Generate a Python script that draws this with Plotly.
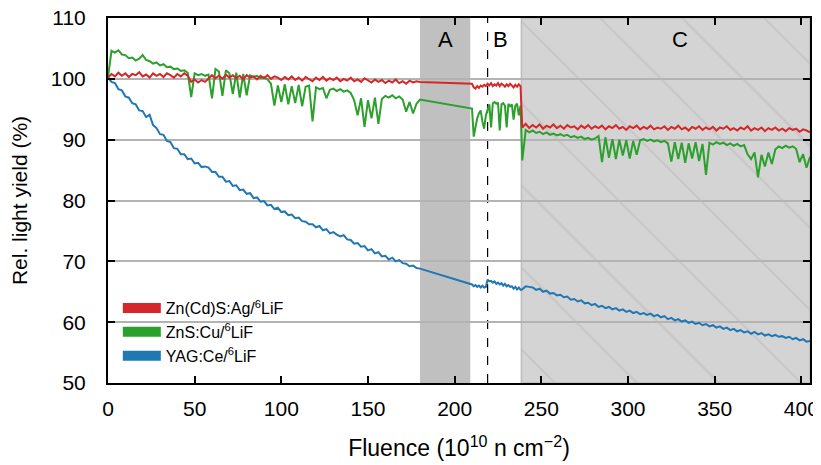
import numpy as np
import plotly.graph_objects as go

# ------------------------------------------------------------
# data
# ------------------------------------------------------------

# fluence grids of the three measurement periods
fluencia_1 = np.arange(0, 181, 2)      # before A
fluencia_2 = np.arange(210, 239, 1)    # period B
fluencia_3 = np.arange(239, 406, 2)    # period C

zncds_1 = [100.2, 100.8, 100.4, 101.0, 100.5, 100.9, 100.3, 100.8, 100.6, 101.1,
           100.4, 100.7, 100.2, 100.9, 100.5, 100.8, 100.3, 100.9, 100.6, 100.2,
           100.8, 100.4, 100.9, 100.5,
           99.5, 99.9, 99.4, 99.8, 99.5, 100.0,
           100.6, 100.1, 100.5, 100.0, 100.7, 100.2, 100.6, 100.1, 100.5, 99.9,
           100.6, 100.2, 100.4, 99.9, 100.5, 100.1, 100.6, 100.0, 100.4, 100.2, 99.8,
           100.3, 99.9, 100.4, 99.8, 100.2, 99.7, 100.3, 100.0, 99.6, 100.2,
           99.8, 100.3, 99.7, 100.1, 99.8, 100.2, 99.6, 100.0, 99.7, 100.2,
           99.6, 99.9, 99.5, 100.1, 99.7,
           99.4, 99.9, 99.5, 99.8, 99.3, 99.7, 99.4, 99.9, 99.3, 99.6,
           99.2, 99.7, 99.4, 99.6, 99.5]
zncds_2 = [99.2, 98.6, 98.4, 98.8, 98.5, 98.9, 98.7, 99.0, 98.8, 99.2,
           98.9, 99.3, 98.8, 99.1, 98.9, 99.3, 98.8, 99.2, 99.0, 98.7,
           99.1, 98.8, 99.2, 98.9, 98.6, 99.0, 98.7, 99.1, 98.8]
zncds_3 = [92.0, 92.6, 91.9, 92.4, 92.0, 92.5, 91.8, 92.3, 92.0, 92.5,
           91.9, 92.3, 91.8, 92.4, 92.0, 92.2, 91.7, 92.3, 91.9, 92.4,
           91.8, 92.2, 91.9, 92.3, 91.7, 92.2, 91.9, 92.4, 91.8, 92.1,
           91.6, 92.2, 91.9, 92.3, 91.7, 92.1, 91.8, 92.3, 91.7, 92.0,
           91.8, 92.2, 91.6, 92.1, 91.8, 92.3, 91.7, 92.0, 91.5, 92.1,
           91.8, 92.2, 91.6, 92.0, 91.7, 92.1, 91.5, 92.0, 91.8, 92.2,
           91.6, 91.9, 91.5, 92.0, 91.7, 92.2, 91.5, 91.9, 91.6, 92.0,
           91.4, 91.9, 91.6, 92.0, 91.5, 91.8, 91.4, 91.9, 91.6, 91.8,
           91.3, 91.7, 91.5, 91.2]

zns_1 = [100.2, 104.6, 104.3, 104.7, 104.0, 103.9, 103.4, 103.5, 103.0, 103.3,
         103.9, 103.1, 102.9, 102.5, 102.7, 102.2, 102.4, 101.9, 102.0, 101.6,
         101.7, 101.3, 101.4, 101.0, 97.0, 100.9, 100.6, 100.8, 100.5, 100.7,
         96.8, 101.6, 101.2, 97.2, 101.4, 100.9, 97.5, 101.0, 96.9, 100.8,
         97.3, 100.6, 100.3, 100.5, 100.1, 100.3, 99.9, 99.2, 95.6, 98.9,
         96.2, 99.1, 95.8, 98.8, 96.0, 99.0, 95.5, 98.7, 98.9, 93.0,
         98.6, 98.3, 98.5, 96.8, 98.2, 98.4, 98.0, 98.3, 97.9, 98.1,
         97.7, 96.5, 94.0, 96.8, 92.1, 96.5, 93.5, 96.9, 92.6, 96.7,
         97.2, 96.9, 97.3, 96.8, 97.1, 96.6, 94.6, 96.2, 94.3, 95.9,
         96.6]
zns_2 = [95.1, 90.5, 92.0, 93.5, 94.3, 94.8, 93.0, 91.8, 94.0, 95.0,
         95.8, 92.0, 96.0, 96.2, 95.9, 96.1, 91.5, 95.8, 96.0, 95.6,
         92.0, 95.9, 95.5, 95.8, 93.3, 95.6, 95.9, 94.0, 95.6]
zns_3 = [86.6, 91.6, 91.2, 91.5, 91.1, 91.3, 90.9, 91.2, 90.8, 91.0,
         90.7, 90.9, 90.6, 90.8, 90.4, 90.6, 90.3, 90.5, 90.1, 90.3,
         90.0, 90.2, 90.6, 86.3, 90.4, 87.0, 90.1, 86.8, 90.0, 87.4,
         89.9, 86.9, 89.8, 87.5, 89.9, 90.1, 89.8, 90.0, 89.7, 89.9,
         89.6, 89.8, 89.4, 86.4, 89.6, 86.8, 89.5, 86.2, 89.4, 86.9,
         89.6, 86.5, 89.3, 84.2, 89.5, 89.2, 89.6, 89.3, 89.5, 89.1,
         89.4, 89.0, 89.3, 88.9, 89.1, 87.6, 86.8, 87.9, 83.8, 87.5,
         85.6, 87.9, 86.0, 88.4, 88.9, 88.6, 89.0, 88.7, 88.9, 88.5,
         86.3, 87.6, 85.4, 87.2]

yag_1 = [100.2, 99.5, 99.3, 98.3, 98.1, 97.1, 96.9, 96.0, 95.8, 94.8,
         94.7, 93.7, 94.1, 92.4, 91.9, 90.9, 90.8, 89.8, 89.6, 88.6,
         88.5, 87.6, 87.6, 86.8, 86.9, 86.1, 86.2, 85.5, 85.6, 85.4,
         84.7, 84.7, 83.9, 83.9, 83.1, 83.2, 82.4, 82.5, 81.7, 81.8,
         81.1, 81.2, 80.4, 80.5, 79.8, 79.9, 79.2, 79.3, 78.6, 78.8,
         78.1, 78.2, 77.6, 77.7, 77.1, 77.2, 76.6, 76.5, 76.1, 76.1,
         75.6, 75.8, 75.1, 75.3, 74.6, 74.8, 74.4, 74.1, 74.3, 73.6,
         73.5, 72.9, 73.0, 72.4, 72.5, 71.8, 72.0, 71.3, 71.5, 70.8,
         70.9, 70.3, 70.6, 70.0, 70.2, 69.7, 69.6, 69.2, 69.3, 68.9,
         68.8]
yag_2 = [66.2, 65.9, 66.1, 65.8, 66.0, 65.7, 66.0, 65.7, 65.8, 67.0,
         66.7, 66.8, 66.5, 66.7, 66.3, 66.5, 66.2, 66.4, 66.0, 66.3,
         65.9, 66.1, 65.8, 65.9, 65.5, 65.8, 65.4, 65.7, 65.3]
yag_3 = [65.4, 65.9, 65.8, 65.7, 65.3, 65.5, 65.0, 65.2, 64.7, 64.8,
         64.4, 64.5, 64.1, 64.2, 63.7, 63.8, 63.4, 63.6, 63.1, 63.2,
         62.8, 63.0, 62.5, 62.7, 62.3, 62.5, 62.1, 62.3, 61.9, 62.1,
         61.7, 61.9, 61.5, 61.7, 61.3, 61.5, 61.2, 61.4, 61.0, 61.2,
         60.8, 61.0, 60.5, 60.7, 60.3, 60.5, 60.1, 60.3, 59.9, 60.1,
         59.7, 59.9, 59.5, 59.7, 59.3, 59.5, 59.1, 59.3, 58.9, 59.1,
         58.7, 58.9, 58.5, 58.7, 58.3, 58.5, 58.1, 58.4, 58.0, 58.2,
         57.8, 58.0, 57.7, 57.9, 57.6, 57.7, 57.4, 57.6, 57.2, 57.4,
         57.0, 57.2, 56.8, 56.9]

# irradiation periods
periodo_a = [180, 209]
periodo_b_linha = 219
periodo_c = [238.5, 405]

nomes = ["Zn(Cd)S:Ag/<sup>6</sup>LiF", "ZnS:Cu/<sup>6</sup>LiF", "YAG:Ce/<sup>6</sup>LiF"]
cores = ["#d62728", "#2ca02c", "#1f77b4"]

fonte = "Liberation Sans, Arial, sans-serif"

# ------------------------------------------------------------
# figure
# ------------------------------------------------------------

fig = go.Figure()

# hatch of period C
fig.add_trace(go.Scatter(
    x=[periodo_c[0], periodo_c[1], periodo_c[1], periodo_c[0], periodo_c[0]],
    y=[50, 50, 110, 110, 50],
    mode="lines", line=dict(width=0), fill="toself",
    fillcolor="rgba(0,0,0,0)",
    fillpattern=dict(shape="\\", fgcolor="#b9b9b9", bgcolor="rgba(0,0,0,0)",
                     size=58, solidity=0.035),
    showlegend=False, hoverinfo="skip"
))

x_all = np.concatenate([fluencia_1, fluencia_2, fluencia_3])
series = [
    zncds_1 + zncds_2 + zncds_3,
    zns_1 + zns_2 + zns_3,
    yag_1 + yag_2 + yag_3,
]

# draw order: green, red, blue
for i in [1, 0, 2]:
    fig.add_trace(go.Scatter(
        x=x_all, y=series[i], mode="lines",
        line=dict(color=cores[i], width=2),
        showlegend=False
    ))

# legend entries (thick boxes)
for i in range(3):
    fig.add_trace(go.Scatter(
        x=[None], y=[None], mode="lines", name=nomes[i],
        line=dict(color=cores[i], width=11)
    ))

# shaded periods
fig.add_shape(type="rect", xref="x", yref="paper",
              x0=periodo_a[0], x1=periodo_a[1], y0=0, y1=1,
              fillcolor="#c0c0c0", line=dict(width=0), layer="between")
fig.add_shape(type="rect", xref="x", yref="paper",
              x0=periodo_c[0], x1=periodo_c[1], y0=0, y1=1,
              fillcolor="#d4d4d4", line=dict(color="#bcbcbc", width=1.5),
              layer="below")
fig.add_shape(type="line", xref="x", yref="paper",
              x0=periodo_b_linha, x1=periodo_b_linha, y0=0, y1=1,
              line=dict(color="black", width=1.2, dash="dash"), layer="between")

for txt, xp in [("A", 194.5), ("B", 226.5), ("C", 330)]:
    fig.add_annotation(x=xp, y=106.4, text=txt, showarrow=False,
                       font=dict(size=22, color="black", family=fonte))

fig.update_layout(
    width=821, height=465,
    margin=dict(l=100, r=19, t=10, b=90, autoexpand=False),
    paper_bgcolor="white", plot_bgcolor="white",
    font=dict(family=fonte, size=21, color="black"),
    showlegend=True,
    legend=dict(
        x=0.014, y=0.027, xanchor="left", yanchor="bottom",
        bgcolor="rgba(0,0,0,0)", font=dict(size=16),
        itemwidth=38, tracegroupgap=0
    ),
)

fig.update_xaxes(
    range=[0, 405], tickvals=[0, 50, 100, 150, 200, 250, 300, 350, 400],
    ticks="inside", ticklen=7, tickwidth=1.5, tickcolor="black",
    showline=True, linecolor="black", linewidth=2, mirror="ticks",
    showgrid=False, zeroline=False, automargin=False,
    ticklabeloverflow="allow",
    title=dict(text="Fluence (10<sup>10</sup> n cm<sup>\u22122</sup>)",
               font=dict(size=23), standoff=21),
    ticklabelstandoff=6,
)
fig.update_yaxes(
    range=[50, 110], dtick=10,
    ticks="inside", ticklen=7, tickwidth=1.5, tickcolor="black",
    showline=True, linecolor="black", linewidth=2, mirror="ticks",
    showgrid=True, gridcolor="#b3b3b3", gridwidth=2, zeroline=False,
    automargin=False, ticklabeloverflow="allow",
    title=dict(text="Rel. light yield (%)", font=dict(size=21), standoff=20),
    ticklabelstandoff=16,
)

fig.write_html("out.html")
